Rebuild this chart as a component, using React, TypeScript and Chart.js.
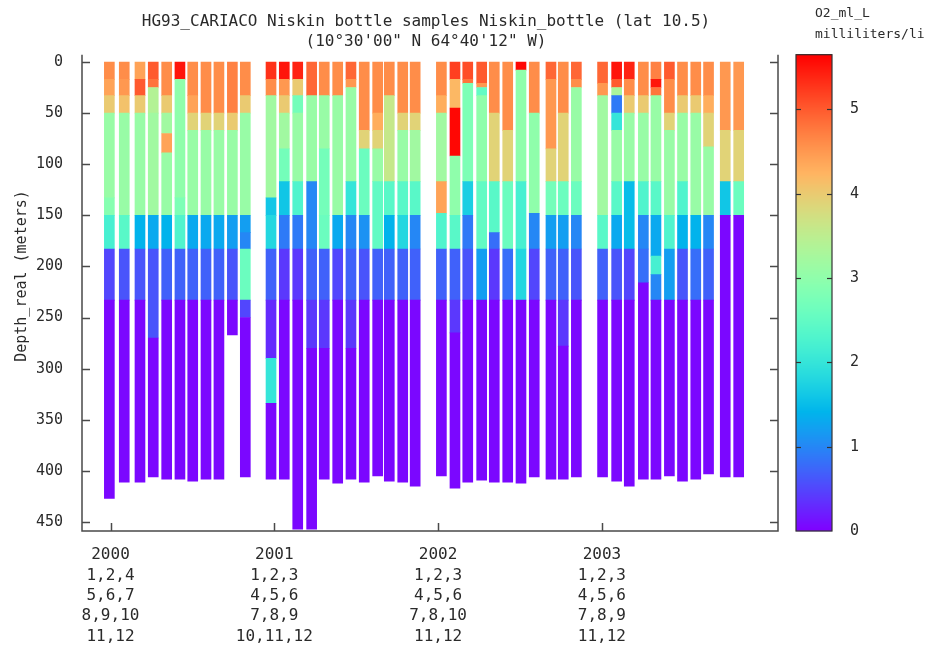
import React, { useEffect, useRef } from 'react';
import { Chart, registerables } from 'chart.js';

Chart.register(...registerables);

const FONT = '"DejaVu Sans Mono", monospace';
const TEXT = '#2a2a2a';
const AXIS = '#4a4a4a';

// Axis ranges
const X_MIN = 1999.826;
const X_MAX = 2004.075;
const Y_MIN = -7.1;
const Y_MAX = 458.8;
const O2_MAX = 5.65;

const yearTicks = [2000, 2001, 2002, 2003];
const xTickLabels = [
  ['2000', '1,2,4', '5,6,7', '8,9,10', '11,12'],
  ['2001', '1,2,3', '4,5,6', '7,8,9', '10,11,12'],
  ['2002', '1,2,3', '4,5,6', '7,8,10', '11,12'],
  ['2003', '1,2,3', '4,5,6', '7,8,9', '11,12'],
];
const depthTicks = [0, 50, 100, 150, 200, 250, 300, 350, 400, 450];
const o2Ticks = [0, 1, 2, 3, 4, 5];

// Cast times (decimal year)
const castTimes2000 = [1999.993, 2000.084, 2000.18, 2000.261, 2000.343, 2000.424, 2000.502, 2000.583, 2000.662, 2000.744, 2000.823];
const castTimes2001 = [2000.98, 2001.061, 2001.143, 2001.228, 2001.305, 2001.387, 2001.468, 2001.549, 2001.631, 2001.702, 2001.784, 2001.86];
const castTimes2002 = [2002.02, 2002.103, 2002.181, 2002.266, 2002.343, 2002.425, 2002.506, 2002.587, 2002.689, 2002.764, 2002.844];
const castTimes2003 = [2003.004, 2003.09, 2003.167, 2003.253, 2003.33, 2003.412, 2003.492, 2003.573, 2003.651, 2003.753, 2003.835];

// Profiles: each layer is [bottom depth (m), O2 (ml/L)], starting from the surface
const profiles2000 = [
  [[17, 4.6], [33, 4.4], [50, 4.0], [133, 3.1], [150, 2.9], [183, 2.2], [233, 0.5], [427, 0.05]],
  [[17, 4.6], [33, 4.5], [50, 4.1], [150, 3.1], [183, 2.4], [233, 0.6], [411, 0.05]],
  [[17, 4.4], [33, 5.0], [50, 4.0], [150, 3.1], [183, 1.4], [233, 0.6], [411, 0.05]],
  [[17, 5.0], [25, 4.8], [50, 3.4], [150, 3.2], [183, 1.3], [270, 0.6], [406, 0.05]],
  [[33, 4.6], [50, 4.0], [70, 3.2], [89, 4.4], [150, 3.1], [183, 1.4], [233, 0.7], [408, 0.05]],
  [[17, 5.5], [133, 3.0], [150, 2.8], [183, 2.3], [233, 0.7], [408, 0.05]],
  [[33, 4.6], [50, 4.4], [67, 3.9], [150, 3.1], [183, 1.3], [233, 0.7], [410, 0.05]],
  [[50, 4.6], [67, 3.9], [150, 3.1], [183, 1.3], [233, 0.7], [408, 0.05]],
  [[50, 4.6], [67, 3.9], [150, 3.1], [183, 1.3], [233, 0.7], [408, 0.05]],
  [[50, 4.7], [67, 4.0], [150, 3.1], [183, 1.2], [233, 0.6], [267, 0.05]],
  [[33, 4.6], [50, 4.0], [150, 3.1], [167, 1.2], [183, 1.0], [233, 2.6], [250, 0.5], [406, 0.05]],
];
const profiles2001 = [
  [[17, 5.3], [33, 4.6], [133, 3.2], [150, 1.6], [183, 1.8], [233, 0.7], [290, 0.3], [334, 2.0], [408, 0.05]],
  [[17, 5.5], [33, 4.5], [50, 4.0], [85, 3.2], [117, 2.7], [150, 1.6], [183, 0.9], [233, 0.4], [408, 0.05]],
  [[17, 5.4], [33, 4.0], [50, 2.7], [117, 3.1], [150, 2.3], [183, 0.9], [233, 0.4], [457, 0.05]],
  [[33, 4.9], [117, 3.1], [183, 1.0], [233, 0.7], [280, 0.4], [457, 0.05]],
  [[33, 4.6], [85, 3.1], [150, 2.7], [183, 2.6], [233, 0.7], [280, 0.4], [408, 0.05]],
  [[33, 4.6], [150, 3.1], [183, 1.3], [233, 0.5], [412, 0.05]],
  [[17, 4.9], [25, 4.5], [117, 3.1], [150, 2.0], [183, 1.0], [233, 0.7], [280, 0.4], [408, 0.05]],
  [[67, 4.6], [85, 3.9], [150, 2.6], [183, 1.1], [233, 0.6], [411, 0.05]],
  [[50, 4.6], [67, 4.3], [85, 3.9], [117, 3.1], [183, 2.5], [233, 0.7], [405, 0.05]],
  [[33, 4.6], [117, 3.6], [150, 2.4], [183, 1.4], [233, 0.7], [410, 0.05]],
  [[50, 4.6], [67, 3.9], [117, 3.1], [150, 2.4], [183, 1.8], [233, 0.7], [411, 0.05]],
  [[50, 4.6], [67, 3.9], [117, 3.2], [150, 2.4], [183, 1.0], [233, 0.7], [415, 0.05]],
];
const profiles2002 = [
  [[33, 4.6], [50, 4.3], [117, 3.2], [148, 4.4], [183, 2.3], [233, 0.7], [405, 0.05]],
  [[17, 5.2], [45, 4.2], [92, 5.6], [150, 3.0], [183, 2.4], [233, 0.7], [265, 0.4], [417, 0.05]],
  [[17, 5.1], [21, 4.8], [117, 2.8], [150, 1.7], [183, 0.9], [233, 0.6], [411, 0.05]],
  [[21, 5.0], [25, 4.5], [33, 2.5], [117, 3.0], [183, 2.5], [233, 1.2], [409, 0.05]],
  [[50, 4.6], [117, 3.9], [167, 2.4], [183, 0.8], [233, 0.4], [411, 0.05]],
  [[67, 4.6], [117, 3.9], [183, 2.6], [233, 0.8], [411, 0.05]],
  [[8, 5.6], [117, 3.0], [183, 2.2], [233, 1.8], [412, 0.05]],
  [[50, 4.6], [148, 3.0], [183, 1.0], [233, 0.5], [406, 0.05]],
  [[17, 4.9], [85, 4.5], [117, 3.9], [150, 2.7], [183, 1.2], [233, 0.7], [408, 0.05]],
  [[50, 4.6], [117, 3.9], [150, 2.6], [183, 1.2], [233, 0.7], [278, 0.4], [408, 0.05]],
  [[17, 4.9], [25, 4.6], [117, 3.1], [150, 2.6], [183, 1.0], [233, 0.6], [406, 0.05]],
];
const profiles2003 = [
  [[21, 4.9], [33, 4.5], [150, 3.2], [183, 2.4], [233, 0.7], [406, 0.05]],
  [[17, 5.5], [25, 5.0], [33, 3.3], [50, 0.9], [67, 2.0], [117, 3.1], [150, 2.4], [183, 1.3], [233, 0.6], [410, 0.05]],
  [[17, 5.4], [33, 4.6], [50, 4.0], [117, 3.1], [183, 1.5], [233, 0.5], [415, 0.05]],
  [[33, 4.6], [50, 4.0], [117, 3.1], [150, 2.3], [183, 1.0], [216, 0.8], [408, 0.05]],
  [[17, 4.7], [25, 5.5], [33, 4.8], [117, 3.1], [150, 2.4], [190, 1.3], [208, 2.2], [233, 1.0], [408, 0.05]],
  [[17, 5.0], [50, 4.6], [67, 3.9], [150, 3.1], [183, 2.3], [233, 1.2], [405, 0.05]],
  [[33, 4.6], [50, 4.0], [117, 3.1], [150, 2.3], [183, 1.4], [233, 0.6], [410, 0.05]],
  [[33, 4.6], [50, 4.0], [150, 3.1], [183, 1.4], [233, 0.8], [408, 0.05]],
  [[33, 4.6], [50, 4.3], [83, 3.9], [150, 3.1], [183, 1.0], [233, 0.7], [403, 0.05]],
  [[67, 4.5], [117, 3.9], [150, 1.6], [406, 0.05]],
  [[67, 4.5], [117, 3.9], [150, 2.6], [406, 0.05]],
];

const titleLine1 = 'HG93_CARIACO Niskin bottle samples Niskin_bottle (lat 10.5)';
const titleLine2 = '(10\u00b030\'00" N 64\u00b040\'12" W)';
const yTitle = 'Depth_real (meters)';
const unitLine1 = 'O2_ml_L';
const unitLine2 = 'milliliters/li';

function rainbow(v: number): string {
  const t = Math.max(0, Math.min(1, v / O2_MAX));
  const r = Math.min(1, Math.abs(2 * t - 0.5));
  const g = Math.sin(Math.PI * t);
  const b = Math.cos((Math.PI * t) / 2);
  return `rgb(${Math.round(r * 255)},${Math.round(g * 255)},${Math.round(b * 255)})`;
}

function buildBars() {
  const times = [...castTimes2000, ...castTimes2001, ...castTimes2002, ...castTimes2003];
  const profs = [...profiles2000, ...profiles2001, ...profiles2002, ...profiles2003];
  const out: any[] = [];
  times.forEach((t, i) => {
    let top = 0;
    profs[i].forEach(([bot, v]) => {
      out.push({ x: t, y: [top, bot], v });
      top = bot;
    });
  });
  return out;
}

const framePlugin = {
  id: 'framePlugin',
  afterDraw(chart: any) {
    const { ctx, chartArea: ca, scales } = chart;
    const xs = scales.x;
    const ys = scales.y;
    const cb = scales.cb;
    ctx.save();
    const seg = (x1: number, y1: number, x2: number, y2: number) => {
      ctx.beginPath();
      ctx.moveTo(x1, y1);
      ctx.lineTo(x2, y2);
      ctx.stroke();
    };
    ctx.strokeStyle = AXIS;
    ctx.lineWidth = 1.5;
    ctx.beginPath();
    ctx.moveTo(ca.left, ca.top);
    ctx.lineTo(ca.left, ca.bottom);
    ctx.lineTo(ca.right, ca.bottom);
    ctx.lineTo(ca.right, ca.top);
    ctx.stroke();
    depthTicks.forEach((v) => {
      const py = Math.round(ys.getPixelForValue(v)) + 0.5;
      seg(ca.left, py, ca.left + 8, py);
      seg(ca.right - 8, py, ca.right, py);
    });
    yearTicks.forEach((v) => {
      const px = Math.round(xs.getPixelForValue(v)) + 0.5;
      seg(px, ca.bottom, px, ca.bottom - 8);
    });

    // colour bar
    const x0 = ca.right + 18;
    const w = 36;
    const yTop = cb.getPixelForValue(O2_MAX);
    const yBot = cb.getPixelForValue(0);
    for (let py = Math.floor(yTop); py < yBot; py++) {
      ctx.fillStyle = rainbow(cb.getValueForPixel(py + 0.5));
      ctx.fillRect(x0, py, w, 1.2);
    }
    ctx.lineWidth = 1.2;
    ctx.strokeStyle = '#333';
    ctx.strokeRect(x0, yTop, w, yBot - yTop);
    o2Ticks.forEach((v) => {
      if (v === 0) return;
      const py = Math.round(cb.getPixelForValue(v)) + 0.5;
      seg(x0, py, x0 + 5, py);
      seg(x0 + w - 5, py, x0 + w, py);
    });

    // texts
    ctx.fillStyle = TEXT;
    ctx.textBaseline = 'middle';
    ctx.textAlign = 'center';
    ctx.font = `16px ${FONT}`;
    const cx = 426;
    ctx.fillText(titleLine1, cx, 22);
    ctx.fillText(titleLine2, cx, 42);
    ctx.textAlign = 'left';
    ctx.font = `13px ${FONT}`;
    ctx.fillText(unitLine1, 815, 14);
    ctx.fillText(unitLine2, 815, 35);
    ctx.save();
    ctx.translate(22, 276);
    ctx.rotate(-Math.PI / 2);
    ctx.textAlign = 'center';
    ctx.font = `15px ${FONT}`;
    ctx.fillText(yTitle, 0, 0);
    ctx.restore();
    ctx.restore();
  },
};

export default function App() {
  const ref = useRef<HTMLCanvasElement>(null);
  useEffect(() => {
    if (!ref.current) return;
    const chart = new Chart(ref.current, {
      type: 'bar',
      data: {
        datasets: [
          {
            data: buildBars(),
            backgroundColor: (c: any) => rainbow(c.raw ? c.raw.v : 0),
            borderWidth: 0,
            barThickness: 10,
            grouped: false,
          } as any,
        ],
      },
      options: {
        responsive: false,
        animation: false,
        events: [],
        layout: { padding: { top: 54.7, left: 0, right: 0, bottom: 0 } },
        plugins: {
          legend: { display: false },
          title: { display: false },
          tooltip: { enabled: false },
        },
        scales: {
          x: {
            type: 'linear',
            position: 'bottom',
            min: X_MIN,
            max: X_MAX,
            offset: false,
            grid: { display: false, drawTicks: false },
            border: { display: false },
            afterBuildTicks: (s: any) => {
              s.ticks = yearTicks.map((v) => ({ value: v }));
            },
            afterFit: (s: any) => {
              s.height = 115;
            },
            ticks: {
              autoSkip: false,
              maxRotation: 0,
              minRotation: 0,
              padding: 14,
              color: TEXT,
              font: { family: FONT, size: 16, lineHeight: 1.27 },
              callback: (_v: any, i: number) => xTickLabels[i],
            },
          },
          y: {
            type: 'linear',
            position: 'left',
            reverse: true,
            min: Y_MIN,
            max: Y_MAX,
            grid: { display: false, drawTicks: true, tickLength: 19 },
            border: { display: false },
            afterBuildTicks: (s: any) => {
              s.ticks = depthTicks.map((v) => ({ value: v }));
            },
            afterFit: (s: any) => {
              s.width = 82;
            },
            ticks: {
              padding: 0,
              color: TEXT,
              font: { family: FONT, size: 15 },
              callback: (v: any) => String(v),
            },
          },
          cb: {
            type: 'linear',
            axis: 'y',
            position: 'right',
            min: 0,
            max: O2_MAX,
            grid: { display: false, drawTicks: true, tickLength: 72 },
            border: { display: false },
            afterBuildTicks: (s: any) => {
              s.ticks = o2Ticks.map((v) => ({ value: v }));
            },
            afterFit: (s: any) => {
              s.width = 152;
            },
            ticks: {
              padding: 0,
              color: TEXT,
              font: { family: FONT, size: 15 },
              callback: (v: any) => String(v),
            },
          },
        } as any,
      },
      plugins: [framePlugin],
    } as any);
    return () => chart.destroy();
  }, []);
  return (
    <div style={{ position: 'fixed', left: 0, top: 0, width: 930, height: 646, background: '#fff' }}>
      <canvas ref={ref} width={930} height={646} style={{ display: 'block', width: 930, height: 646 }} />
    </div>
  );
}
